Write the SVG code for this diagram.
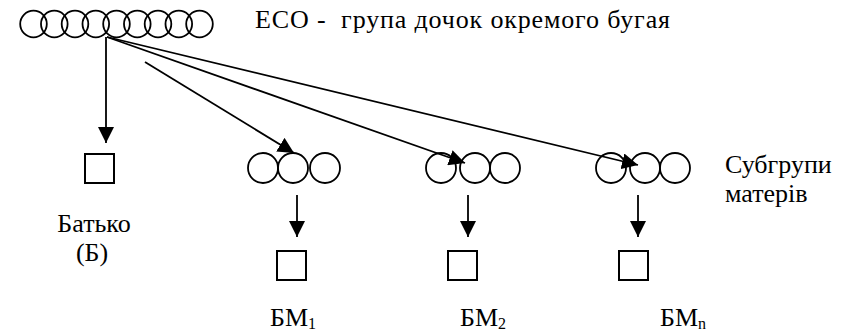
<svg xmlns="http://www.w3.org/2000/svg" width="857" height="335" viewBox="0 0 857 335">
<defs>
<style>
.c{fill:none;stroke:#000;stroke-width:1.8}
.b{fill:#fff;stroke:#000;stroke-width:2}
.l{fill:none;stroke:#000;stroke-width:1.8}
text{font-family:'Liberation Serif','Times New Roman','DejaVu Serif','Noto Serif',serif;font-size:26px;fill:#000}
.s{font-size:16px}
</style>
<marker id="ah" markerUnits="userSpaceOnUse" markerWidth="16" markerHeight="16" refX="15" refY="7.5" orient="auto" viewBox="0 0 15 15">
<path d="M0,0 L15,7.5 L0,15 z" fill="#000"/>
</marker>
</defs>
<rect width="857" height="335" fill="#fff"/>
<g id="eco">
<circle class="c" cx="33.5" cy="24" r="13.3"/>
<circle class="c" cx="54.3" cy="24" r="13.3"/>
<circle class="c" cx="75" cy="24" r="13.3"/>
<circle class="c" cx="95.8" cy="24" r="13.3"/>
<circle class="c" cx="116.5" cy="24" r="13.3"/>
<circle class="c" cx="137.3" cy="24" r="13.3"/>
<circle class="c" cx="158" cy="24" r="13.3"/>
<circle class="c" cx="178.8" cy="24" r="13.3"/>
<circle class="c" cx="199.5" cy="24" r="13.3"/>
<text x="255" y="28" textLength="415" lengthAdjust="spacing" xml:space="preserve">ECO -  група дочок окремого бугая</text>
</g>
<g id="father">
<rect class="b" x="85" y="154" width="29" height="29"/>
<text x="94" y="232" text-anchor="middle">Батько</text>
<text x="92" y="261" text-anchor="middle">(Б)</text>
</g>
<g id="group1">
<circle class="c" cx="263" cy="168" r="15"/>
<circle class="c" cx="293" cy="168" r="15"/>
<circle class="c" cx="325" cy="168" r="15"/>
</g>
<g id="group2">
<circle class="c" cx="441" cy="168" r="15"/>
<circle class="c" cx="475" cy="168" r="15"/>
<circle class="c" cx="505" cy="168" r="15"/>
</g>
<g id="group3">
<circle class="c" cx="611" cy="168" r="15"/>
<circle class="c" cx="645" cy="168" r="15"/>
<circle class="c" cx="675" cy="168" r="15"/>
<text x="725" y="173">Субгрупи</text>
<text x="725" y="202">матерів</text>
</g>
<g id="bm1">
<rect class="b" x="277" y="251" width="29" height="29"/>
<text x="270" y="326">БМ<tspan class="s" dy="3">1</tspan></text>
</g>
<g id="bm2">
<rect class="b" x="448" y="251" width="29" height="29"/>
<text x="460" y="326">БМ<tspan class="s" dy="3">2</tspan></text>
</g>
<g id="bmn">
<rect class="b" x="619" y="251" width="29" height="29"/>
<text x="660" y="326">БМ<tspan class="s" dy="3">n</tspan></text>
</g>
<g id="connectors">
<line class="l" x1="106" y1="37" x2="106" y2="143" marker-end="url(#ah)"/>
<line class="l" x1="145" y1="62" x2="294" y2="153" marker-end="url(#ah)"/>
<line class="l" x1="107" y1="37" x2="465" y2="163" marker-end="url(#ah)"/>
<line class="l" x1="107" y1="37" x2="638" y2="165" marker-end="url(#ah)"/>
<line class="l" x1="297" y1="195" x2="297" y2="237" marker-end="url(#ah)"/>
<line class="l" x1="468" y1="195" x2="468" y2="237" marker-end="url(#ah)"/>
<line class="l" x1="638" y1="195" x2="638" y2="237" marker-end="url(#ah)"/>
</g>
</svg>
